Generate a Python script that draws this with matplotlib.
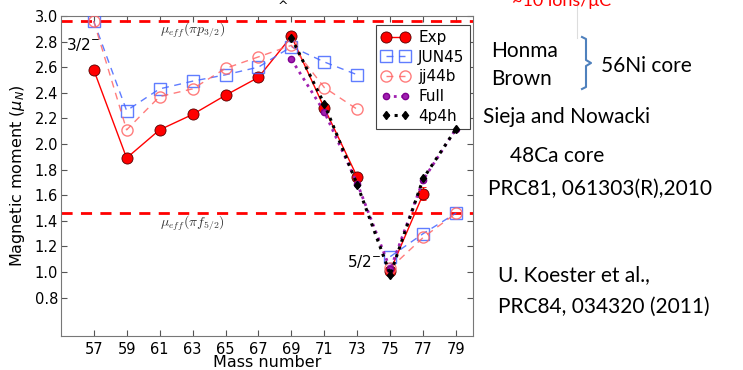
import numpy as np
import matplotlib
matplotlib.use('Agg')
import matplotlib.pyplot as plt

# mass numbers of the Cu isotopes
mass = [57, 59, 61, 63, 65, 67, 69, 71, 73, 75, 77, 79]

# magnetic moments (mu_N)
exp_mass = [57, 59, 61, 63, 65, 67, 69, 71, 73, 75, 77]
exp_mu = [2.58, 1.89, 2.11, 2.23, 2.38, 2.52, 2.84, 2.28, 1.74, 1.01, 1.61]
exp_err = [0.02, 0.02, 0.02, 0.02, 0.02, 0.02, 0.02, 0.02, 0.02, 0.02, 0.05]
jun45 = [2.96, 2.26, 2.43, 2.49, 2.54, 2.60, 2.76, 2.64, 2.54, 1.12, 1.30, 1.46]
jj44b = [2.96, 2.11, 2.37, 2.43, 2.59, 2.68, 2.77, 2.44, 2.27, 1.03, 1.27, 1.46]
full_mass = [69, 71, 73, 75, 77, 79]
full_mu = [2.66, 2.25, 1.69, 1.02, 1.72, 2.12]
p4h4_mu = [2.83, 2.31, 1.68, 0.98, 1.73, 2.12]

mu_p32 = 2.96
mu_f52 = 1.46

yticks = [0.8, 1.0, 1.2, 1.4, 1.6, 1.8, 2.0, 2.2, 2.4, 2.6, 2.8, 3.0]

# the lines are not joined between A=73 and A=75
split = 75


def segments(x, y):
    x = np.asarray(x)
    y = np.asarray(y)
    lo = x < split
    return [(x[lo], y[lo]), (x[~lo], y[~lo])]


fig = plt.figure(figsize=(7.43, 3.70), dpi=100)

# overlay in pixel coordinates for the slide text on the right
bg = fig.add_axes([0, 0, 1, 1])
bg.set_xlim(0, 743)
bg.set_ylim(370, 0)
bg.axis('off')

ax = fig.add_axes([0.0817, 0.092, 0.5545, 0.865])

handles = []
exp_err = np.asarray(exp_err)
for i, (xs, ys) in enumerate(segments(exp_mass, exp_mu)):
    e = exp_err[:len(xs)] if i == 0 else exp_err[-len(xs):]
    h = ax.errorbar(xs, ys, yerr=e, fmt='o-', color='red', ms=8,
                    mec='#550000', mew=0.6, lw=1.0, capsize=2, elinewidth=0.8, zorder=3)
    if i == 0:
        handles.append(h[0])
for i, (xs, ys) in enumerate(segments(mass, jun45)):
    h, = ax.plot(xs, ys, 's--', color='#4466ff', mfc='none', mec='#4466ff', ms=8,
                 mew=1.0, lw=1.0, alpha=0.85, dashes=(5, 4), zorder=4)
    if i == 0:
        handles.append(h)
for i, (xs, ys) in enumerate(segments(mass, jj44b)):
    h, = ax.plot(xs, ys, 'o--', color='#ff6666', mfc='none', mec='#ff6666', ms=8,
                 mew=1.0, lw=1.0, alpha=0.85, dashes=(5, 4), zorder=4)
    if i == 0:
        handles.append(h)
h, = ax.plot(full_mass, full_mu, 'o:', color='#a020b0', mec='#800090', ms=4.5,
             lw=2.0, zorder=5)
handles.append(h)
h, = ax.plot(full_mass, p4h4_mu, 'd:', color='black', ms=4.5, lw=2.2, zorder=6)
handles.append(h)

ax.axhline(mu_p32, color='red', ls='--', lw=2.0, dashes=(4, 3), zorder=2)
ax.axhline(mu_f52, color='red', ls='--', lw=2.0, dashes=(4, 3), zorder=2)

ax.text(61.0, 2.885, r'$\mu_{eff}(\pi p_{3/2})$', fontsize=10, color='#333333',
        va='center', math_fontfamily='cm')
ax.text(61.0, 1.38, r'$\mu_{eff}(\pi f_{5/2})$', fontsize=10, color='#333333',
        va='center', math_fontfamily='cm')
ax.text(55.35, 2.775, r'3/2$^{-}$', fontsize=11, va='center')
ax.text(72.35, 1.08, r'5/2$^{-}$', fontsize=11, va='center')

ax.set_xlim(55, 80)
ax.set_ylim(0.5, 3.0)
ax.set_xticks(mass)
ax.set_yticks(yticks)
ax.tick_params(direction='in', top=True, right=True, labelsize=10.5, length=4,
               color='#555555')
ax.tick_params(axis='x', pad=4)
ax.tick_params(axis='y', pad=2)
for s in ax.spines.values():
    s.set_color('#777777')
ax.set_xlabel('Mass number', fontsize=11.5, labelpad=-1)
ax.set_ylabel(r'Magnetic moment ($\mu_N$)', fontsize=11.5, labelpad=5)

leg = ax.legend(handles, ['Exp', 'JUN45', 'jj44b', 'Full', '4p4h'],
                loc='upper right', numpoints=2, fontsize=11, fancybox=False,
                edgecolor='#444444', framealpha=1, borderaxespad=0,
                handlelength=1.8, labelspacing=0.3, handletextpad=0.6,
                borderpad=0.35, bbox_to_anchor=(0.9934, 0.972))
leg.get_frame().set_linewidth(0.8)

# slide annotations
bg.text(283, 7, '^', fontsize=9, ha='center', va='center')
bg.text(512, 6, '~10 ions/\u03bcC', fontsize=13, color='red', family='Lato')
bg.plot([577, 577], [0, 38], color='#dddddd', lw=0.8)
kw = dict(fontsize=15, family='Lato', color='black')
bg.text(491, 57, 'Honma', **kw)
bg.text(491, 85, 'Brown', **kw)
bg.text(601, 72, '56Ni core', **kw)
bg.text(483, 123, 'Sieja and Nowacki', **kw)
bg.text(510, 162, '48Ca core', **kw)
bg.text(488, 195, 'PRC81, 061303(R),2010', **kw)
bg.text(498, 281, 'U. Koester et al.,', **kw)
bg.text(498, 313, 'PRC84, 034320 (2011)', **kw)
# curly brace
bx = [582, 586, 586, 591, 586, 586, 582]
by = [37, 39, 60, 63, 66, 87, 89]
bg.plot(bx, by, color='#4f81bd', lw=1.5)

fig.savefig('out.png', dpi=100)
